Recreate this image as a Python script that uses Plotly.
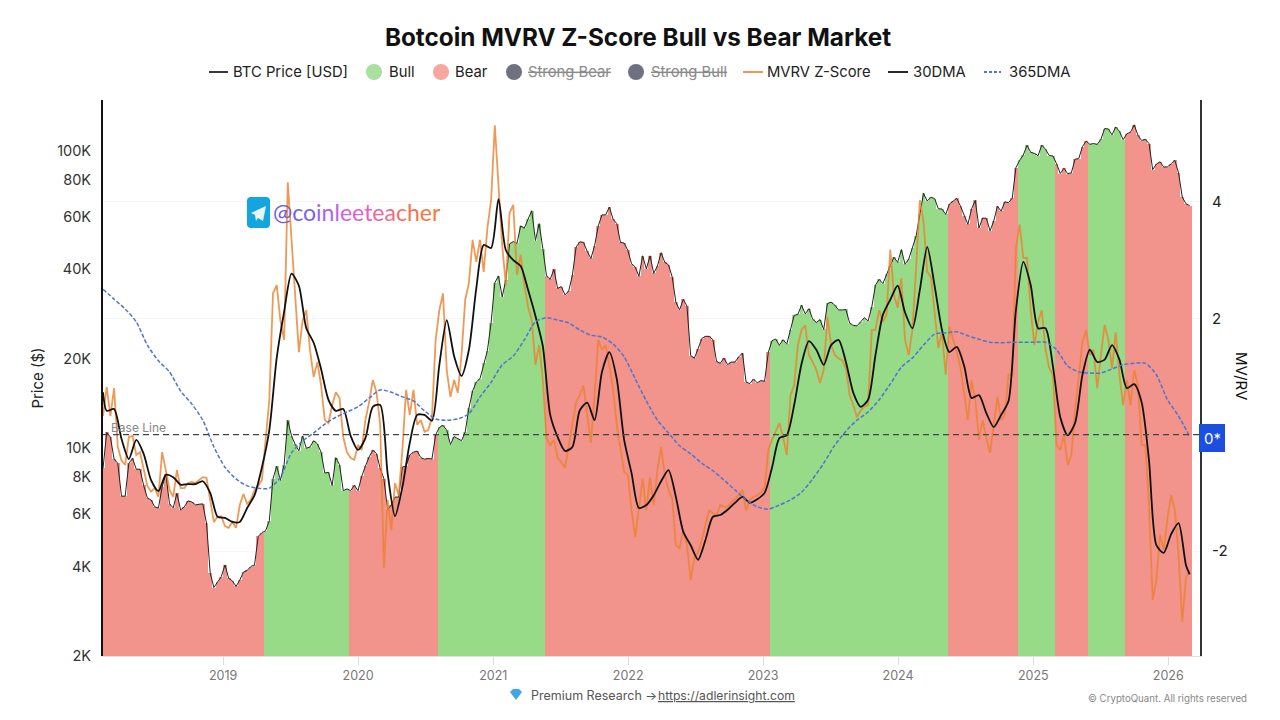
import numpy as np
import pandas as pd
import plotly.graph_objects as go

# BTC close, one value every 10 days from 2018-02-10
btc_price = [
    8550, 11300, 10900, 9200, 8900, 6900, 6900, 8900, 9250, 8500,
    8500, 7500, 6800, 6700, 6350, 6300, 7400, 8200, 6500, 6300,
    7050, 6200, 6350, 6650, 6600, 6450, 6480, 6500, 5600, 3800,
    3400, 3550, 3700, 4050, 3650, 3580, 3430, 3600, 3830, 3880,
    4000, 4050, 5050, 5200, 5280, 5700, 7900, 8700, 7800, 8800,
    12400, 11000, 10300, 9800, 11000, 10000, 10100, 10600, 10350, 9700,
    8250, 8300, 7500, 9300, 8800, 7200, 7300, 7200, 7500, 7200,
    8050, 8700, 9350, 9850, 9600, 8550, 7900, 6200, 6450, 6850,
    6850, 8650, 8700, 9500, 9700, 9780, 9300, 9190, 9240, 9200,
    11100, 11750, 11950, 11500, 10300, 10950, 10750, 10600, 11350, 13650,
    15580, 16700, 17150, 19350, 21300, 26400, 36000, 38000, 32300, 36900,
    48700, 49600, 48900, 56000, 55000, 59000, 63000, 50000, 57000, 47000,
    38000, 37000, 40000, 34500, 35000, 32800, 33800, 38200, 47500, 49500,
    49300, 46000, 43500, 48000, 56000, 61000, 61000, 64800, 59000, 57000,
    49300, 49000, 46300, 41800, 40700, 37900, 44400, 40100, 44400, 38800,
    41000, 45500, 42200, 41400, 37700, 31000, 29200, 31700, 30100, 20500,
    20100, 21600, 23400, 23800, 23800, 23200, 19600, 19300, 20100, 19100,
    19500, 19500, 20300, 20900, 16700, 16500, 17100, 16600, 16900, 16800,
    21000, 23000, 23300, 22200, 23200, 22400, 25000, 28000, 28200, 30300,
    28300, 29500, 27200, 26500, 27100, 25100, 30700, 31000, 30300, 29200,
    29200, 29300, 26400, 25900, 25800, 26600, 27500, 26800, 29900, 35400,
    37000, 35800, 38700, 41200, 43900, 42200, 46600, 41600, 43300, 47100,
    51800, 61200, 72000, 67900, 69900, 69200, 64000, 63800, 61200, 66300,
    67900, 69300, 65200, 60300, 56700, 63900, 68200, 55100, 59500, 59400,
    53900, 58200, 65200, 62800, 67500, 67000, 69400, 88000, 93000, 97000,
    104500, 99000, 98200, 96500, 104700, 101400, 96600, 96300, 90600, 84000,
    87500, 83900, 84500, 93900, 94300, 103500, 108000, 105400, 106000, 105300,
    109600, 119000, 118700, 113300, 120500, 116500, 109200, 114300, 115700, 122500,
    113000, 108500, 109500, 106000, 86600, 90400, 92000, 88300, 88500, 90500,
    93000, 84500, 70000, 66500, 65500,
]

# same dates as the price
mvrv_z = [
    0.32, 0.82, 0.32, 0.80, -0.21, -0.44, -0.52, -0.04, -0.02, -0.35,
    -0.30, -0.61, -0.88, -0.98, -0.92, -1.07, -0.30, -0.61, -0.95, -1.07,
    -0.61, -0.92, -0.92, -0.83, -0.81, -0.83, -0.78, -0.73, -0.74, -1.12,
    -1.50, -1.41, -1.40, -1.57, -1.60, -1.50, -1.60, -1.21, -1.02, -1.19,
    -1.12, -0.95, -0.88, -0.78, -0.04, 0.60, 2.43, 2.57, 1.96, 1.63,
    4.34, 3.35, 2.26, 1.42, 1.96, 2.14, 1.46, 0.99, 1.25, 0.85,
    0.25, 0.20, 0.51, 0.73, 0.63, -0.04, -0.30, -0.40, -0.43, -0.18,
    -0.26, 0.25, 0.56, 0.94, 0.73, 0.17, -2.29, -1.12, -1.64, -0.83,
    -1.04, -0.26, 0.77, 0.34, 0.77, 0.17, 0.25, 0.05, 0.08, 0.30,
    1.63, 2.14, 2.43, 1.11, 0.65, 0.94, 0.72, 1.37, 2.32, 2.61,
    3.35, 2.97, 3.35, 2.80, 3.55, 4.03, 5.32, 4.21, 3.26, 2.57,
    3.81, 3.95, 2.75, 3.09, 2.57, 2.20, 1.97, 1.20, 1.54, 0.94,
    -0.06, -0.18, -0.09, -0.40, -0.47, -0.57, -0.18, 0.25, 0.56, 0.68,
    0.85, 0.34, -0.14, 0.68, 1.63, 1.46, 1.54, 1.20, 0.77, 0.17,
    -0.26, -0.64, -0.69, -1.30, -1.76, -1.30, -0.75, -1.30, -0.74, -1.21,
    -0.61, -0.21, -0.69, -0.95, -1.09, -1.90, -1.95, -1.64, -1.90, -2.50,
    -2.12, -2.02, -1.81, -1.55, -1.30, -1.35, -1.38, -1.21, -1.24, -1.24,
    -1.16, -1.11, -1.04, -0.95, -1.30, -1.12, -1.07, -1.04, -0.99, -0.92,
    -0.26, -0.09, 0.05, 0.20, -0.04, -0.35, 0.68, 0.85, 1.54, 1.80,
    1.88, 1.37, 1.25, 1.11, 0.89, 1.11, 2.02, 1.54, 1.37, 1.31,
    1.28, 1.14, 0.68, 0.51, 0.30, 0.42, 0.48, 0.51, 1.80, 1.80,
    2.14, 1.94, 2.06, 3.18, 2.40, 2.18, 2.69, 1.63, 1.37, 1.80,
    2.88, 4.03, 3.66, 2.80, 2.71, 2.06, 1.49, 1.76, 1.03, 1.85,
    1.63, 1.42, 1.15, 0.68, 0.25, 0.94, 0.60, -0.09, 0.25, -0.06,
    -0.31, 0.17, 0.65, 0.25, 0.34, 1.03, 1.03, 3.21, 3.61, 3.04,
    3.04, 2.14, 1.54, 1.94, 2.14, 1.46, 1.15, 1.03, -0.18, -0.26,
    -0.01, -0.52, -0.35, 0.42, 1.03, 1.59, 1.80, 1.37, 1.46, 0.80,
    1.37, 1.89, 1.63, 1.14, 1.76, 1.03, 0.51, 0.94, 0.51, 1.11,
    0.85, -0.18, -0.18, -1.21, -2.84, -2.50, -1.72, -1.98, -1.43, -1.04,
    -1.30, -2.07, -3.22, -2.46, -2.33,
]

# first date, every second date after it, and the last date
dma_30 = [
    0.73,
    0.41, 0.44, -0.07, -0.42, -0.09, -0.33, -0.78, -0.97, -0.69, -0.73,
    -0.86, -0.85, -0.85, -0.80, -1.00, -1.41, -1.43, -1.50, -1.50, -1.26,
    -1.04, -0.56, 0.08, 1.32, 2.11, 2.77, 2.56, 1.83, 1.58, 1.13,
    0.60, 0.41, 0.44, -0.02, -0.26, -0.06, 0.48, 0.51, -0.66, -1.40,
    -0.90, -0.14, 0.34, 0.34, 0.24, 1.20, 1.97, 1.35, 1.01, 1.46,
    2.52, 3.26, 3.21, 4.05, 3.17, 3.00, 2.90, 2.49, 2.04, 1.52,
    0.34, -0.04, -0.28, -0.21, 0.42, 0.55, 0.25, 1.08, 1.42, 0.96,
    -0.09, -0.66, -1.26, -1.21, -1.04, -0.80, -0.61, -1.07, -1.67, -1.90,
    -2.15, -1.81, -1.41, -1.38, -1.29, -1.17, -1.07, -1.17, -1.11, -1.00,
    -0.57, -0.06, -0.01, 0.51, 1.22, 1.61, 1.46, 1.20, 1.54, 1.63,
    1.25, 0.72, 0.48, 0.60, 1.37, 2.06, 2.32, 2.56, 2.10, 1.83,
    2.49, 3.23, 2.56, 1.80, 1.42, 1.51, 1.18, 0.63, 0.68, 0.37,
    0.13, 0.34, 0.58, 2.14, 2.97, 2.57, 1.83, 1.83, 1.18, 0.30,
    -0.01, 0.20, 1.03, 1.46, 1.25, 1.29, 1.54, 1.29, 0.80, 0.87,
    0.56, -0.44, -1.90, -2.03, -1.71, -1.52, -2.24,
    -2.40,
]

# every third date
dma_365 = [
    2.50, 2.33, 2.16, 1.94, 1.54, 1.27, 1.08, 0.75, 0.53, 0.25,
    -0.21, -0.56, -0.76, -0.88, -0.92, -0.92, -0.73, -0.31, -0.11, 0.03,
    0.18, 0.30, 0.39, 0.48, 0.63, 0.77, 0.73, 0.65, 0.58, 0.41,
    0.27, 0.25, 0.27, 0.36, 0.65, 0.90, 1.20, 1.35, 1.63, 1.94,
    2.01, 1.97, 1.92, 1.80, 1.71, 1.68, 1.56, 1.34, 0.96, 0.58,
    0.25, 0.03, -0.19, -0.33, -0.49, -0.62, -0.78, -0.95, -1.12, -1.24,
    -1.28, -1.21, -1.12, -0.99, -0.76, -0.49, -0.18, 0.06, 0.25, 0.39,
    0.60, 0.87, 1.16, 1.32, 1.54, 1.73, 1.75, 1.77, 1.70, 1.64,
    1.59, 1.58, 1.59, 1.59, 1.59, 1.59, 1.46, 1.18, 1.08, 1.06,
    1.06, 1.13, 1.20, 1.23, 1.23, 1.03, 0.60, 0.32, -0.03,
]

# the market flips at each of these dates, starting out bear
regime_changes = ["2019-04-17", "2019-12-10", "2020-08-01", "2021-05-16", "2023-01-16",
                  "2024-05-12", "2024-11-20", "2025-02-25", "2025-05-27", "2025-09-08"]

price_ticks = [2000, 4000, 6000, 8000, 10000, 20000, 40000, 60000, 80000, 100000]
price_labels = ["2K", "4K", "6K", "8K", "10K", "20K", "40K", "60K", "80K", "100K"]
z_ticks = [-2, 2, 4]
z_labels = ["-2", "2", "4"]
year_ticks = [f"{y}-01-01" for y in range(2019, 2027)]
year_labels = [str(y) for y in range(2019, 2027)]

FONT = "Inter"
BULL = "#97da87"
BEAR = "#f2938c"
ORANGE = "rgba(236,130,50,0.82)"
BLUE = "#4f74cf"

dates = pd.date_range("2018-02-10", periods=len(btc_price), freq="10D")
price = np.array(btc_price, dtype=float)
is_bull = np.searchsorted(pd.to_datetime(regime_changes), dates, side="right") % 2 == 1
dma_30_dates = dates[np.r_[0, 1:len(dates):2, len(dates) - 1]]


# the plot area sits at x 103-1200, y 100-656 on the page
def xp(x):
    return (x - 103) / 1097


def yp(y):
    return (656 - y) / 556


def label(x, y, text, size=14.8, color="#222", anchor="left", angle=0, **font):
    return dict(x=xp(x), y=yp(y), xref="paper", yref="paper", text=text, showarrow=False,
                xanchor=anchor, yanchor="middle", borderpad=0, textangle=angle,
                font=dict(family=FONT if "family" not in font else font.pop("family"),
                          size=size, color=color, **font))


def polygon(points, color):
    path = "M" + " L".join(f"{xp(a):.5f},{yp(b):.5f}" for a, b in points) + " Z"
    return dict(type="path", xref="paper", yref="paper", fillcolor=color, line_width=0, path=path)


fig = go.Figure()
fig.add_trace(go.Bar(x=dates, y=np.where(is_bull, price, np.nan), name="Bull", marker=dict(color=BULL, line_width=0)))
fig.add_trace(go.Bar(x=dates, y=np.where(is_bull, np.nan, price), name="Bear", marker=dict(color=BEAR, line_width=0)))
fig.add_trace(go.Scatter(x=dates, y=price, name="BTC Price [USD]", mode="lines",
                         line=dict(color="#222", width=1)))
fig.add_trace(go.Scatter(x=dates, y=mvrv_z, name="MVRV Z-Score", mode="lines", yaxis="y2",
                         line=dict(color=ORANGE, width=1.8)))
fig.add_trace(go.Scatter(x=dma_30_dates, y=dma_30, name="30DMA", mode="lines", yaxis="y2",
                         line=dict(color="#111", width=1.8, shape="spline", smoothing=0.7)))
fig.add_trace(go.Scatter(x=dates[::3], y=dma_365, name="365DMA", mode="lines", yaxis="y2",
                         line=dict(color=BLUE, width=1.5, dash="4px,2px", shape="spline", smoothing=0.7)))

# legend row, drawn by hand because two entries are struck through
shapes = [dict(type="line", xref="x", x0=dates[0], x1="2026-03-28", yref="y2", y0=0, y1=0,
               line=dict(color="#444", width=1.3, dash="6px,4px"))]
for x0, x1, color, dash in [(209, 228, "#222", "solid"), (743, 763, "#ec8b42", "solid"),
                            (888, 908, "#111", "solid"), (984, 1001, BLUE, "3px,2px")]:
    shapes.append(dict(type="line", xref="paper", yref="paper", x0=xp(x0), x1=xp(x1), y0=yp(72), y1=yp(72),
                       line=dict(color=color, width=1.8, dash=dash)))
for x, color in [(374, "#a9dfa0"), (441, "#f4a8a0"), (514, "#6f7180"), (636, "#6f7180")]:
    shapes.append(dict(type="circle", xref="paper", yref="paper", x0=xp(x - 8), x1=xp(x + 8),
                       y0=yp(80), y1=yp(64), fillcolor=color, line_width=0))

# blue box for the baseline tick
shapes.append(dict(type="rect", xref="paper", yref="paper", x0=xp(1199), x1=xp(1225), y0=yp(452), y1=yp(424),
                   fillcolor="#1a4fe0", line_width=0))

# telegram badge, corners cut twice for a rounded look
shapes.append(polygon([(250, 197), (267, 197), (269, 198), (270, 200), (270, 225), (269, 227), (267, 228),
                       (250, 228), (248, 227), (247, 225), (247, 200), (248, 198)], "#12a5e0"))
shapes.append(polygon([(251, 213), (266, 206), (263, 221), (258, 218), (256, 221), (255, 215)], "#e6f6fd"))

# little gem in the footer
shapes.append(polygon([(510, 692), (513, 689), (519, 689), (522, 692), (516, 700)], "#3fa7e8"))

handle_colors = ["#6a5ce0", "#6d62e8", "#7a64ea", "#9a66ec", "#ab64ec", "#c060ea", "#d260e2", "#df5fd8",
                 "#ec60b8", "#f0659c", "#f26a8a", "#f06f70", "#f2734f", "#f37846", "#f47a3e"]
handle = "".join(f'<span style="color:{c}">{ch}</span>' for ch, c in zip("@coinleeteacher", handle_colors))

annotations = [
    label(232, 72, "BTC Price [USD]"),
    label(388, 72, "Bull"),
    label(454, 72, "Bear"),
    label(527, 72, "Strong Bear", color="#8a8a8a", lineposition="through"),
    label(650, 72, "Strong Bull", color="#8a8a8a", lineposition="through"),
    label(766, 72, "MVRV Z-Score"),
    label(912, 72, "30DMA"),
    label(1008, 72, "365DMA"),
    label(110, 427, "Base Line", size=12, color="#888"),
    label(1212, 438, "0*", size=15, color="white", anchor="center"),
    label(272, 212, handle, size=23, family="Lato"),
    label(530, 695, "Premium Research →", size=12.5, color="#555"),
    label(657, 695, "https://adlerinsight.com", size=12.2, color="#555", lineposition="under"),
    label(1248, 698, "© CryptoQuant. All rights reserved", size=9.7, color="#888", anchor="right"),
    label(1242, 376, "MV/RV", size=15, color="#111", anchor="center", angle=90),
]

fig.update_layout(
    width=1280,
    height=720,
    margin=dict(l=103, r=80, t=100, b=64),
    paper_bgcolor="white",
    plot_bgcolor="white",
    barmode="overlay",
    bargap=0,
    showlegend=False,
    title=dict(text="<b>Botcoin MVRV Z-Score Bull vs Bear Market</b>", x=638 / 1280, xanchor="center",
               y=1 - 37 / 720, yanchor="middle", font=dict(family=FONT, size=24.3, color="#111")),
    xaxis=dict(range=["2018-02-10", "2026-03-28"], tickvals=year_ticks, ticktext=year_labels, showgrid=False,
               ticks="outside", ticklen=8, tickcolor="#ddd", showline=True, linecolor="#e2e2e2", linewidth=1,
               tickfont=dict(family=FONT, size=12.5, color="#777")),
    yaxis=dict(type="log", range=[np.log10(2000), np.log10(148500)], tickvals=price_ticks, ticktext=price_labels,
               showgrid=False, showline=True, linecolor="#111", linewidth=2,
               ticks="outside", ticklen=7, tickcolor="rgba(0,0,0,0)",
               title=dict(text="Price ($)", font=dict(family=FONT, size=15, color="#222"), standoff=10),
               tickfont=dict(family=FONT, size=14.5, color="#333")),
    yaxis2=dict(overlaying="y", side="right", range=[-3.804, 5.753], tickvals=z_ticks, ticktext=z_labels,
                zeroline=False, showgrid=True, gridcolor="#f6f6f6", showline=True, linecolor="#333", linewidth=2,
                ticks="outside", ticklen=7, tickcolor="rgba(0,0,0,0)",
                tickfont=dict(family=FONT, size=15, color="#222")),
    shapes=shapes,
    annotations=annotations,
)

# the page's default body margin would push the figure off its 1280x720 frame
fig.write_html("out.html", config=dict(displayModeBar=False), post_script="document.body.style.margin='0';")
